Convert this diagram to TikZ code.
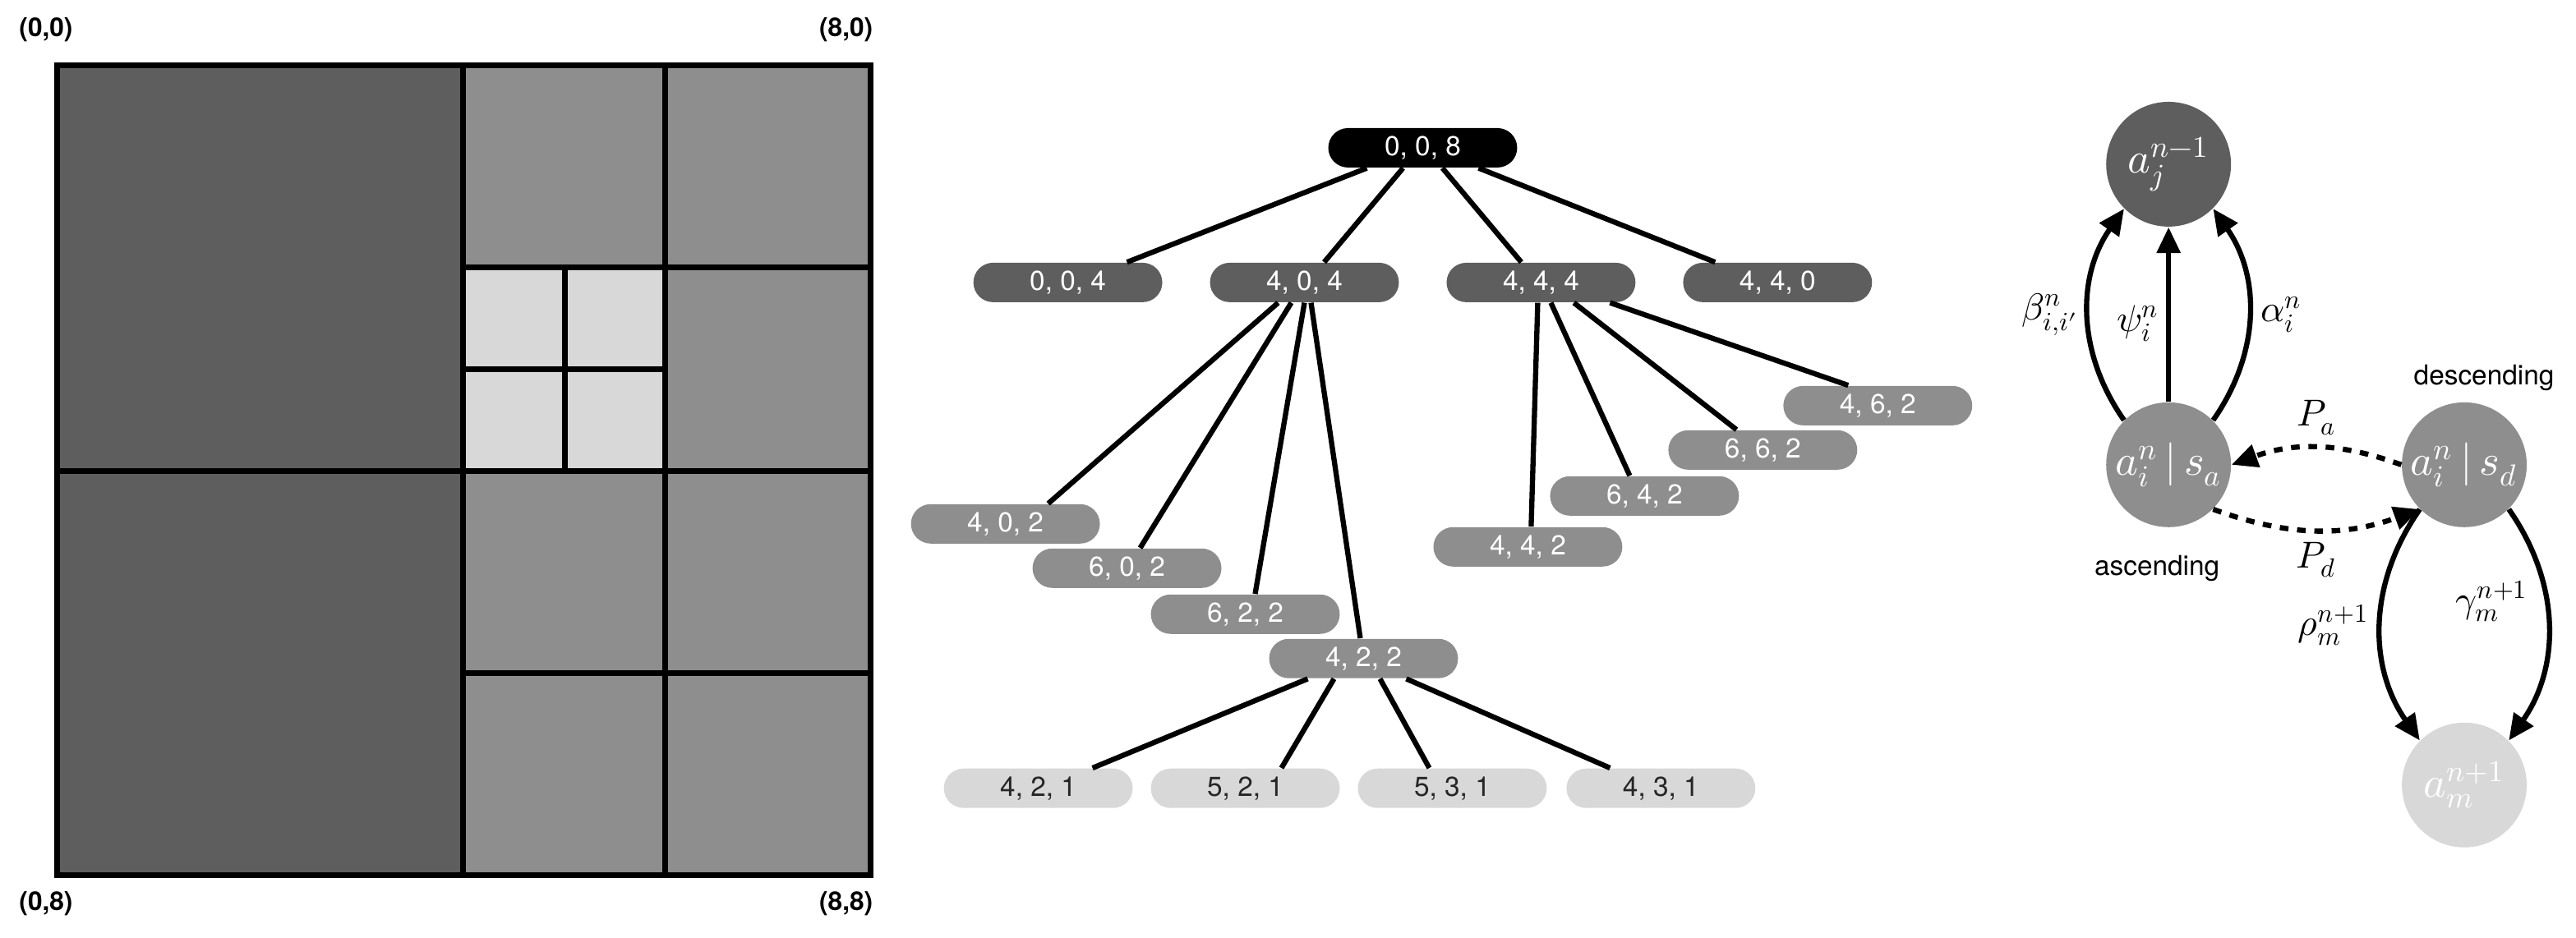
\documentclass[tikz,border=0pt]{standalone}
\usepackage{fontspec}
\setmainfont{TeX Gyre Heros}
\usepackage{unicode-math}
\setmathfont{Latin Modern Math}
\usetikzlibrary{calc,arrows.meta}
\definecolor{dk}{HTML}{5E5E5E}
\definecolor{md}{HTML}{8E8E8E}
\definecolor{lt}{HTML}{D8D8D8}
\tikzset{
 pill/.style={rounded corners=0.24cm,minimum width=2.3cm,minimum height=0.48cm,inner sep=0pt,text=white,font=\fontsize{9.5}{11}\selectfont},
 edge/.style={line width=1.8pt},
 cnode/.style={circle,minimum size=1.52cm,inner sep=0pt,text=white,font=\fontsize{15}{17}\selectfont},
 arr/.style={line width=1.8pt,-{Triangle[length=9pt,width=8pt]}},
 lab/.style={font=\fontsize{13}{15}\selectfont},
 cell/.style={line width=2pt,draw=black},
 corner/.style={font=\bfseries\fontsize{9}{11}\selectfont}
}
\begin{document}
\begin{tikzpicture}[x=0.02cm,y=-0.02cm]
\useasboundingbox (0,0) rectangle (1568,571);
% quadtree square
\fill[dk] (35,40) rectangle (282,533);
\fill[md] (282,40) rectangle (530,533);
\fill[lt] (282,163) rectangle (405,287);
\draw[cell] (35,40) rectangle (530,533);
\draw[cell] (282,40) -- (282,533);
\draw[cell] (405,40) -- (405,533);
\draw[cell] (35,287) -- (530,287);
\draw[cell] (282,163) -- (530,163);
\draw[cell] (282,410) -- (530,410);
\draw[cell] (344,163) -- (344,287);
\draw[cell] (282,225) -- (405,225);
\node[corner] (c00) at (28,18) {(0,0)};
\node[corner] (c80) at (515,18) {(8,0)};
\node[corner] (c08) at (28,550) {(0,8)};
\node[corner] (c88) at (515,550) {(8,8)};
% tree
\node[pill,fill=black] (r) at (866,90) {0, 0, 8};
\node[pill,fill=dk] (a) at (650,172) {0, 0, 4};
\node[pill,fill=dk] (b) at (794,172) {4, 0, 4};
\node[pill,fill=dk] (c) at (938,172) {4, 4, 4};
\node[pill,fill=dk] (d) at (1082,172) {4, 4, 0};
\node[pill,fill=md] (b1) at (612,319) {4, 0, 2};
\node[pill,fill=md] (b2) at (686,346) {6, 0, 2};
\node[pill,fill=md] (b3) at (758,374) {6, 2, 2};
\node[pill,fill=md] (b4) at (830,401) {4, 2, 2};
\node[pill,fill=md] (c1) at (930,333) {4, 4, 2};
\node[pill,fill=md] (c2) at (1001,302) {6, 4, 2};
\node[pill,fill=md] (c3) at (1073,274) {6, 6, 2};
\node[pill,fill=md] (c4) at (1143,247) {4, 6, 2};
\node[pill,fill=lt,text=black!85] (e1) at (632,480) {4, 2, 1};
\node[pill,fill=lt,text=black!85] (e2) at (758,480) {5, 2, 1};
\node[pill,fill=lt,text=black!85] (e3) at (884,480) {5, 3, 1};
\node[pill,fill=lt,text=black!85] (e4) at (1011,480) {4, 3, 1};
\draw[edge] ($(r.south)+(-34,0)$) -- ($(a.north)+(36,0)$);
\draw[edge] ($(r.south)+(-12,0)$) -- ($(b.north)+(12,0)$);
\draw[edge] ($(r.south)+(12,0)$) -- ($(c.north)+(-12,0)$);
\draw[edge] ($(r.south)+(34,0)$) -- ($(d.north)+(-38,0)$);
\draw[edge] ($(b.south)+(-16,0)$) -- ($(b1.north)+(26,0)$);
\draw[edge] ($(b.south)+(-8,0)$) -- ($(b2.north)+(8,0)$);
\draw[edge] ($(b.south)+(0,0)$) -- ($(b3.north)+(6,0)$);
\draw[edge] ($(b.south)+(4,0)$) -- ($(b4.north)+(-2,0)$);
\draw[edge] ($(c.south)+(-2,0)$) -- ($(c1.north)+(2,0)$);
\draw[edge] ($(c.south)+(6,0)$) -- ($(c2.north)+(-9,0)$);
\draw[edge] ($(c.south)+(20,0)$) -- ($(c3.north)+(-16,0)$);
\draw[edge] ($(c.south)+(42,0)$) -- ($(c4.north)+(-18,0)$);
\draw[edge] ($(b4.south)+(-34,0)$) -- ($(e1.north)+(33,0)$);
\draw[edge] ($(b4.south)+(-18,0)$) -- ($(e2.north)+(22,0)$);
\draw[edge] ($(b4.south)+(10,0)$) -- ($(e3.north)+(-14,0)$);
\draw[edge] ($(b4.south)+(26,0)$) -- ($(e4.north)+(-31,0)$);
% graph
\node[cnode,fill=dk] (aj) at (1320,100) {$a_j^{n-1}$};
\node[cnode,fill=md] (sa) at (1320,283) {$a_i^n\,|\,s_a$};
\node[cnode,fill=md] (sd) at (1500,283) {$a_i^n\,|\,s_d$};
\node[cnode,fill=lt] (am) at (1500,478) {$a_m^{n+1}$};
\draw[arr] (sa) -- node[lab,left=-1pt,pos=0.45] {$\psi_i^n$} (aj);
\draw[arr] (sa.north west) to[bend left=35] node[lab,left=-1pt] {$\beta_{i,i'}^n$} (aj.south west);
\draw[arr] (sa.north east) to[bend right=35] node[lab,right=0pt] {$\alpha_i^n$} (aj.south east);
\draw[arr,dashed] (sd.west) to[bend right=20] node[lab,above] {$P_a$} (sa.east);
\draw[arr,dashed] (sa.south east) to[bend right=20] node[lab,below] {$P_d$} (sd.south west);
\draw[arr] (sd.south west) to[bend right=35] node[lab,left] {$\rho_m^{n+1}$} (am.north west);
\draw[arr] (sd.south east) to[bend left=35] node[lab,left=2pt,pos=0.4] {$\gamma_m^{n+1}$} (am.north east);
\node[font=\fontsize{9.5}{11}\selectfont] (desc) at (1512,230) {descending};
\node[font=\fontsize{9.5}{11}\selectfont] (asc) at (1313,346) {ascending};
\end{tikzpicture}
\end{document}
